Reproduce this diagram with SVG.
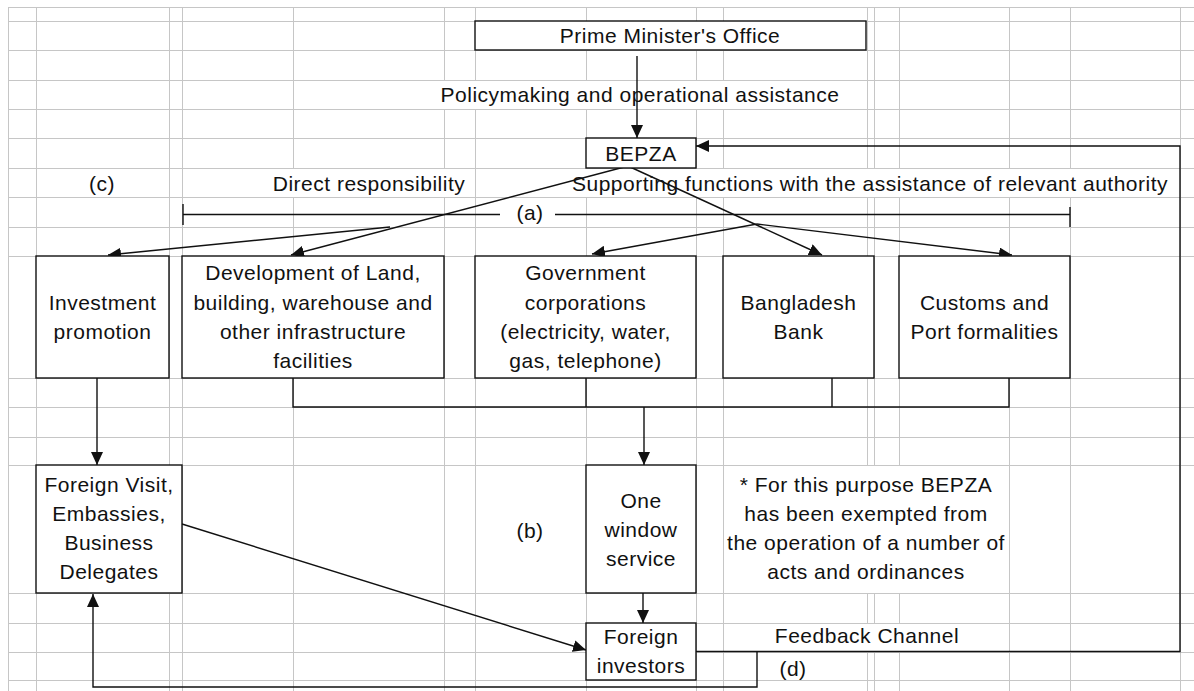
<svg xmlns="http://www.w3.org/2000/svg" width="1194" height="691" viewBox="0 0 1194 691">
<defs>
<style>
.grid{stroke:#c6c6c6;stroke-width:1;fill:none}
.box{fill:#fff;stroke:#111;stroke-width:1.4}
.t{font-family:"Liberation Sans",Arial,sans-serif;font-size:21px;letter-spacing:0.5px;fill:#111;text-anchor:middle}
.c{stroke:#111;stroke-width:1.4;fill:none}
.ca{stroke:#111;stroke-width:1.4;fill:none;marker-end:url(#arr)}
</style>
<marker id="arr" markerUnits="userSpaceOnUse" markerWidth="14" markerHeight="12" refX="13" refY="6" orient="auto">
<path d="M0,0 L13,6 L0,12 z" fill="#111"/>
</marker>
</defs>
<rect width="1194" height="691" fill="#fff"/>
<g id="grid">
<path class="grid" d="M8 7.5H1194M8 21.5H1194M8 50.5H1194M8 80.5H1194M8 109.5H1194M8 138.5H1194M8 168.5H1194M8 197.5H1194M8 227.5H1194M8 256.5H1194M8 378.5H1194M8 407.5H1194M8 437.5H1194M8 465.5H1194M8 593.5H1194M8 623.5H1194M8 652.5H1194M8 680.5H1194"/>
<path class="grid" d="M8.5 7V691M36.5 7V691M169.5 7V691M182.5 7V691M293.5 7V168M293.5 197V691M444.5 7V80M444.5 109V168M444.5 197V691M475.5 7V80M475.5 109V691M586.5 7V80M586.5 109V168M586.5 197V691M696.5 7V80M696.5 109V168M696.5 197V691M723.5 7V80M723.5 109V168M723.5 197V691M867.5 7V168M867.5 197V465M867.5 593V623M867.5 652V691M874.5 7V168M874.5 197V465M874.5 593V623M874.5 652V691M899.5 7V168M899.5 197V465M899.5 593V623M899.5 652V691M1009.5 7V168M1009.5 197V691M1070.5 7V168M1070.5 197V691M1180.5 7V691"/>
</g>
<g id="connectors">
<line class="ca" x1="637" y1="56" x2="637" y2="138"/>
<line class="ca" x1="628" y1="166" x2="291" y2="255"/>
<line class="ca" x1="390" y1="227" x2="108" y2="255"/>
<line class="ca" x1="628" y1="166" x2="822" y2="255"/>
<line class="ca" x1="757" y1="224" x2="592" y2="254"/>
<line class="ca" x1="757" y1="224" x2="1012" y2="255"/>
<path class="c" d="M183 214.5H500M183 204V225M555 214.5H1070M1070 207V227"/>
<path class="c" d="M293 378V407H1009V378M586 378V407M832 378V407"/>
<line class="ca" x1="644" y1="407" x2="644" y2="465"/>
<line class="ca" x1="97" y1="378" x2="97" y2="465"/>
<line class="ca" x1="643" y1="593" x2="643" y2="623"/>
<line class="ca" x1="182" y1="524" x2="586" y2="650"/>
<path class="ca" d="M696 651.5H1180V146H696"/>
<path class="ca" d="M757 651.5V687H93V594"/>
</g>
<g id="pmo"><rect class="box" x="475" y="21" width="391" height="29"/><text class="t" x="670" y="43">Prime Minister's Office</text></g>
<g id="label-policy"><text class="t" x="640" y="102">Policymaking and operational assistance</text></g>
<g id="bepza"><rect class="box" x="586" y="138" width="110" height="30"/><text class="t" x="641" y="161">BEPZA</text></g>
<g id="label-c"><text class="t" x="102" y="191">(c)</text></g>
<g id="label-direct"><text class="t" x="369" y="191">Direct responsibility</text></g>
<g id="label-supporting"><text class="t" x="870" y="191">Supporting functions with the assistance of relevant authority</text></g>
<g id="label-a"><text class="t" x="530" y="220">(a)</text></g>
<g id="investment"><rect class="box" x="36" y="256" width="133" height="122"/><text class="t"><tspan x="102.5" y="310">Investment</tspan><tspan x="102.5" y="339">promotion</tspan></text></g>
<g id="development"><rect class="box" x="182" y="256" width="262" height="122"/><text class="t"><tspan x="313" y="280">Development of Land,</tspan><tspan x="313" y="309.5">building, warehouse and</tspan><tspan x="313" y="339">other infrastructure</tspan><tspan x="313" y="368">facilities</tspan></text></g>
<g id="government"><rect class="box" x="475" y="256" width="221" height="122"/><text class="t"><tspan x="585.5" y="280">Government</tspan><tspan x="585.5" y="309.5">corporations</tspan><tspan x="585.5" y="339">(electricity, water,</tspan><tspan x="585.5" y="368">gas, telephone)</tspan></text></g>
<g id="bank"><rect class="box" x="723" y="256" width="151" height="122"/><text class="t"><tspan x="798.5" y="309.5">Bangladesh</tspan><tspan x="798.5" y="339">Bank</tspan></text></g>
<g id="customs"><rect class="box" x="899" y="256" width="171" height="122"/><text class="t"><tspan x="984.5" y="309.5">Customs and</tspan><tspan x="984.5" y="339">Port formalities</tspan></text></g>
<g id="foreign-visit"><rect class="box" x="36" y="465" width="146" height="128"/><text class="t"><tspan x="109" y="492">Foreign Visit,</tspan><tspan x="109" y="521">Embassies,</tspan><tspan x="109" y="550">Business</tspan><tspan x="109" y="579">Delegates</tspan></text></g>
<g id="label-b"><text class="t" x="530" y="538">(b)</text></g>
<g id="one-window"><rect class="box" x="586" y="465" width="110" height="128"/><text class="t"><tspan x="641" y="508">One</tspan><tspan x="641" y="537">window</tspan><tspan x="641" y="566">service</tspan></text></g>
<g id="note"><text class="t"><tspan x="866" y="492">* For this purpose BEPZA</tspan><tspan x="866" y="521">has been exempted from</tspan><tspan x="866" y="550">the operation of a number of</tspan><tspan x="866" y="579">acts and ordinances</tspan></text></g>
<g id="foreign-investors"><rect class="box" x="586" y="623" width="110" height="57"/><text class="t"><tspan x="641" y="644">Foreign</tspan><tspan x="641" y="673">investors</tspan></text></g>
<g id="label-feedback"><text class="t" x="867" y="643">Feedback Channel</text></g>
<g id="label-d"><text class="t" x="793" y="676">(d)</text></g>
</svg>
